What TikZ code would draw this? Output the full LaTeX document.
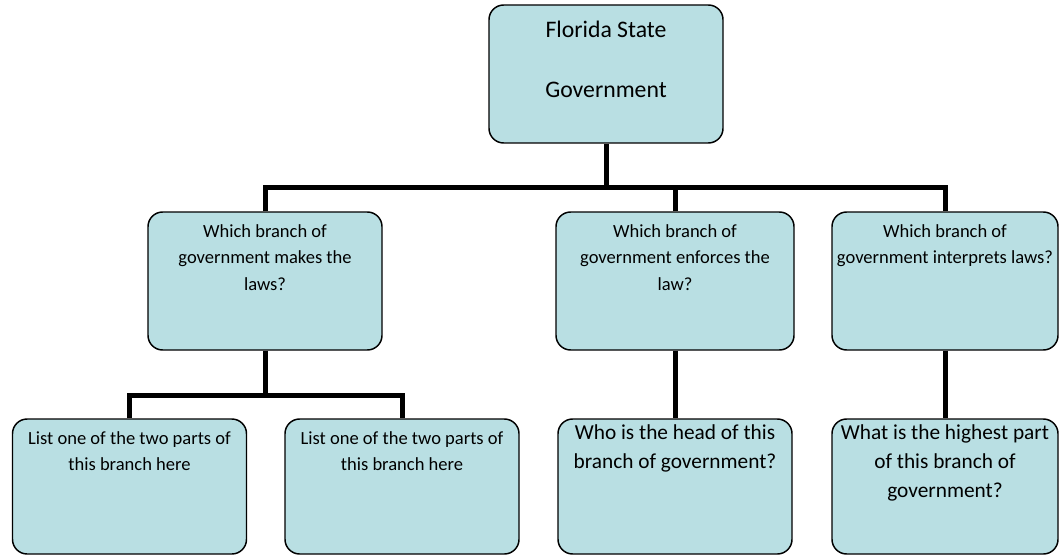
\documentclass[tikz,border=0pt]{standalone}
\usepackage{fontspec}
\setmainfont{Carlito}
\usepackage{tikz}
\usetikzlibrary{positioning}

\definecolor{boxblue}{RGB}{185,223,227}

\tikzset{
  qbox/.style={draw=black, line width=1.1pt, fill=boxblue, rounded corners=11pt,
               minimum width=175.5pt, minimum height=103.5pt, inner sep=0pt},
  lowbox/.style={qbox, minimum height=101.25pt},
  qtext/.style={align=center, inner sep=0pt, font=\fontsize{13.9pt}{19.9pt}\selectfont},
  bigtext/.style={align=center, inner sep=0pt, font=\fontsize{16pt}{21.75pt}\selectfont},
  link/.style={line width=3.75pt}
}

\begin{document}
\begin{tikzpicture}[x=0.75pt,y=-0.75pt]
	\useasboundingbox (0,0) rectangle (1060,556);

	% TOP BOX
	\node[qbox] (gov) at (606,74) {};
	\node[align=center, inner sep=0pt, font=\fontsize{17.8pt}{22.5pt}\selectfont,
	      below=12.5pt of gov.north] (govtext) {Florida State\\[22.5pt]Government};

	% BRANCHES
	\node[qbox] (leg) at (265,281) {};
	\node[qbox, minimum width=178.5pt] (exe) at (675,281) {};
	\node[qbox, minimum width=169.5pt] (jud) at (945,281) {};
	\node[qtext, below=9.5pt of leg.north] (legtext) {Which branch of\\government makes the\\laws?};
	\node[qtext, below=9.5pt of exe.north] (exetext) {Which branch of\\government enforces the\\law?};
	\node[qtext, below=9.5pt of jud.north] (judtext) {Which branch of\\government interprets laws?};

	% BOTTOM ROW
	\node[lowbox] (partA) at (129.5,486.5) {};
	\node[lowbox] (partB) at (402,486.5) {};
	\node[lowbox] (head) at (675,486.5) {};
	\node[lowbox, minimum width=169.5pt] (court) at (945,486.5) {};
	\node[qtext, below=9.5pt of partA.north] (partAtext) {List one of the two parts of\\this branch here};
	\node[qtext, below=9.5pt of partB.north] (partBtext) {List one of the two parts of\\this branch here};
	\node[bigtext, below=4.5pt of head.north] (headtext) {Who is the head of this\\branch of government?};
	\node[bigtext, below=4.5pt of court.north] (courttext) {What is the highest part\\of this branch of\\government?};

	% CONNECTORS
	\coordinate (bus) at (0,188);
	\coordinate (lowbus) at (0,395);
	\draw[link] (gov.south) -- (gov.south |- bus);
	\draw[link] (leg.north) -- (leg.north |- bus) -- (jud.north |- bus) -- (jud.north);
	\draw[link] (exe.north) -- (exe.north |- bus);
	\draw[link] (leg.south) -- (leg.south |- lowbus);
	\draw[link] (partA.north) -- (partA.north |- lowbus) -- (partB.north |- lowbus) -- (partB.north);
	\draw[link] (exe.south) -- (head.north);
	\draw[link] (jud.south) -- (court.north);
\end{tikzpicture}
\end{document}
